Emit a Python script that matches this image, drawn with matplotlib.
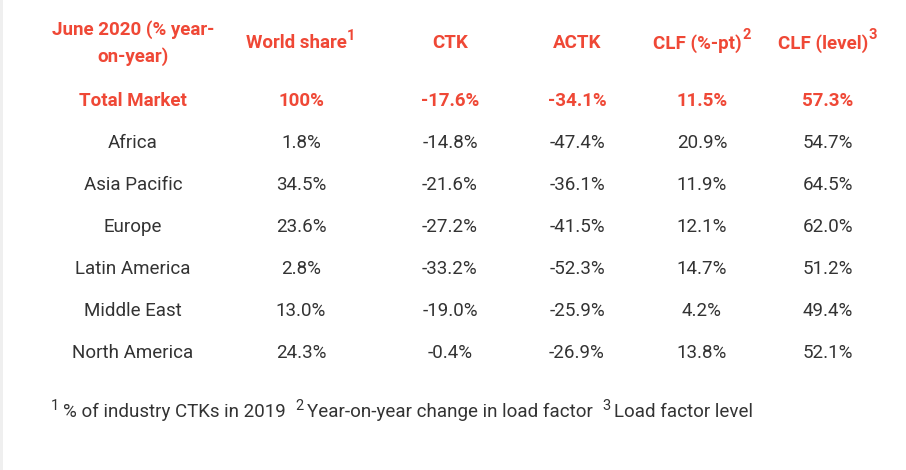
import matplotlib
matplotlib.use("Agg")
import matplotlib.pyplot as plt

plt.rcParams['font.family'] = ['Roboto', 'DejaVu Sans']

RED = '#ef4836'
GRAY = '#333333'

header_cols = ['June 2020 (% year-\non-year)', 'World share', 'CTK', 'ACTK', 'CLF (%-pt)', 'CLF (level)']
header_sup = ['', '1', '', '', '2', '3']
regions = ['Total Market', 'Africa', 'Asia Pacific', 'Europe', 'Latin America',
           'Middle East', 'North America']
world_share = ['100%', '1.8%', '34.5%', '23.6%', '2.8%', '13.0%', '24.3%']
ctk = ['-17.6%', '-14.8%', '-21.6%', '-27.2%', '-33.2%', '-19.0%', '-0.4%']
actk = ['-34.1%', '-47.4%', '-36.1%', '-41.5%', '-52.3%', '-25.9%', '-26.9%']
clf_pt = ['11.5%', '20.9%', '11.9%', '12.1%', '14.7%', '4.2%', '13.8%']
clf_level = ['57.3%', '54.7%', '64.5%', '62.0%', '51.2%', '49.4%', '52.1%']
footnotes = [('1', '% of industry CTKs in 2019'),
             ('2', 'Year-on-year change in load factor'),
             ('3', 'Load factor level')]

fig = plt.figure(figsize=(9.06, 4.70), dpi=100)
ax = fig.add_axes([0, 0, 1, 1])
ax.set_xlim(0, 906)
ax.set_ylim(470, 0)
ax.axis('off')
ax.axvspan(0, 2.5, color='#efefef', lw=0)

col_x = [133, 301, 450, 577, 702, 828]
fs = 13.5
sup_fs = 10.5

# header
for i, (h, s) in enumerate(zip(header_cols, header_sup)):
    shift = -3.5 if s else 0
    t = ax.annotate(h, (col_x[i], 43.5), xytext=(shift, 0), textcoords='offset points',
                    ha='center', va='center', fontsize=fs, fontweight='bold',
                    color=RED, linespacing=1.55)
    if s:
        ax.annotate(s, xy=(1, 1), xycoords=t, xytext=(0.5, -1), textcoords='offset points',
                    ha='left', va='center', fontsize=sup_fs, fontweight='bold', color=RED)

# body
columns = [regions, world_share, ctk, actk, clf_pt, clf_level]
for r in range(len(regions)):
    y = 100.5 + 42 * r
    bold = r == 0
    for c, col in enumerate(columns):
        ax.text(col_x[c], y, col[r], ha='center', va='center', fontsize=fs,
                fontweight='bold' if bold else 'normal',
                color=RED if bold else GRAY)

# footnote line
prev = None
for k, (num, txt) in enumerate(footnotes):
    if prev is None:
        prev = ax.text(51, 406, num, ha='left', va='center', fontsize=sup_fs, color=GRAY)
    else:
        prev = ax.annotate(num, xy=(1, 0.5), xycoords=prev, xytext=(7, 4.5),
                           textcoords='offset points', ha='left', va='center',
                           fontsize=sup_fs, color=GRAY)
    prev = ax.annotate(txt, xy=(1, 0.5), xycoords=prev, xytext=(2.5, -4.5),
                       textcoords='offset points', ha='left', va='center',
                       fontsize=fs, color=GRAY)

fig.savefig('out.png', dpi=100)
